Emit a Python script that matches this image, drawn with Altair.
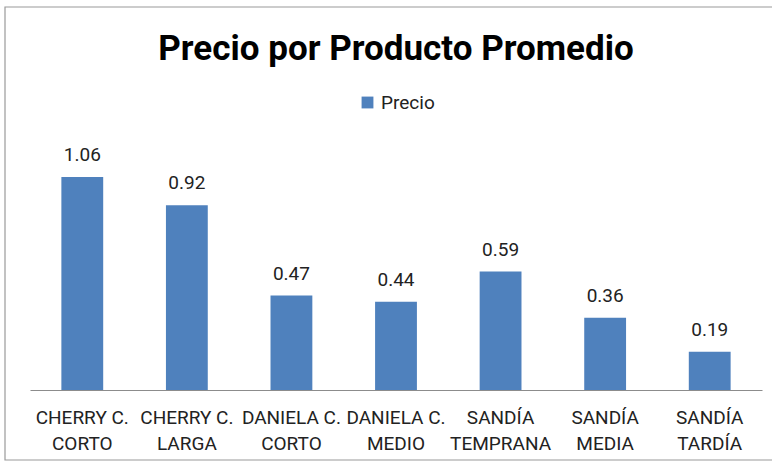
import altair as alt
import pandas as pd

categorias = ["CHERRY C.|CORTO", "CHERRY C.|LARGA", "DANIELA C.|CORTO", "DANIELA C.|MEDIO",
              "SANDÍA|TEMPRANA", "SANDÍA|MEDIA", "SANDÍA|TARDÍA"]
precios = [1.06, 0.92, 0.47, 0.44, 0.59, 0.36, 0.19]
serie = ["Precio"] * len(categorias)

df = pd.DataFrame({"producto": categorias, "precio": precios, "serie": serie})

FONT = "Roboto, sans-serif"

x = alt.X("producto:N", sort=None, title=None,
          scale=alt.Scale(paddingInner=0.6, paddingOuter=0.3),
          axis=alt.Axis(labelAngle=0, labelExpr="split(datum.label, '|')",
                        labelFontSize=19, labelFont=FONT, labelColor="#222222",
                        labelLineHeight=26, labelPadding=18, labelBaseline="top",
                        ticks=False, domainColor="#8c8c8c", domainWidth=1.2))
y = alt.Y("precio:Q", axis=None, scale=alt.Scale(domain=[0, 1.2]))

bars = alt.Chart(df).mark_bar(color="#4F81BD").encode(
    x=x, y=y,
    color=alt.Color("serie:N", scale=alt.Scale(range=["#4F81BD"]),
                    legend=alt.Legend(title=None, orient="none", legendX=328, legendY=-56,
                                      symbolType="square", symbolSize=140, labelOffset=4,
                                      labelFont=FONT, labelFontSize=19, labelColor="#222222"))
)

labels = alt.Chart(df).mark_text(dy=-22, fontSize=19, font=FONT, color="#222222").encode(
    x=x, y=y, text=alt.Text("precio:Q", format=".2f")
)

border = alt.Chart(pd.DataFrame({"a": [0]})).mark_rect(
    fill=None, stroke="#9a9a9a", strokeWidth=1.2, clip=False
).encode(x=alt.value(-25), x2=alt.value(760), y=alt.value(-142), y2=alt.value(311))

chart = alt.layer(border, bars, labels).properties(
    width=732, height=241,
    title=alt.TitleParams("Precio por Producto Promedio", font=FONT, fontSize=35,
                          fontWeight="bold", color="#000000", anchor="middle",
                          baseline="alphabetic", offset=-89),
    padding={"left": 30, "top": 149, "right": 10, "bottom": 75},
    autosize=alt.AutoSizeParams(type="none"),
).configure_view(stroke=None)

chart.save("out.html", embed_options={"renderer": "svg", "actions": False})
